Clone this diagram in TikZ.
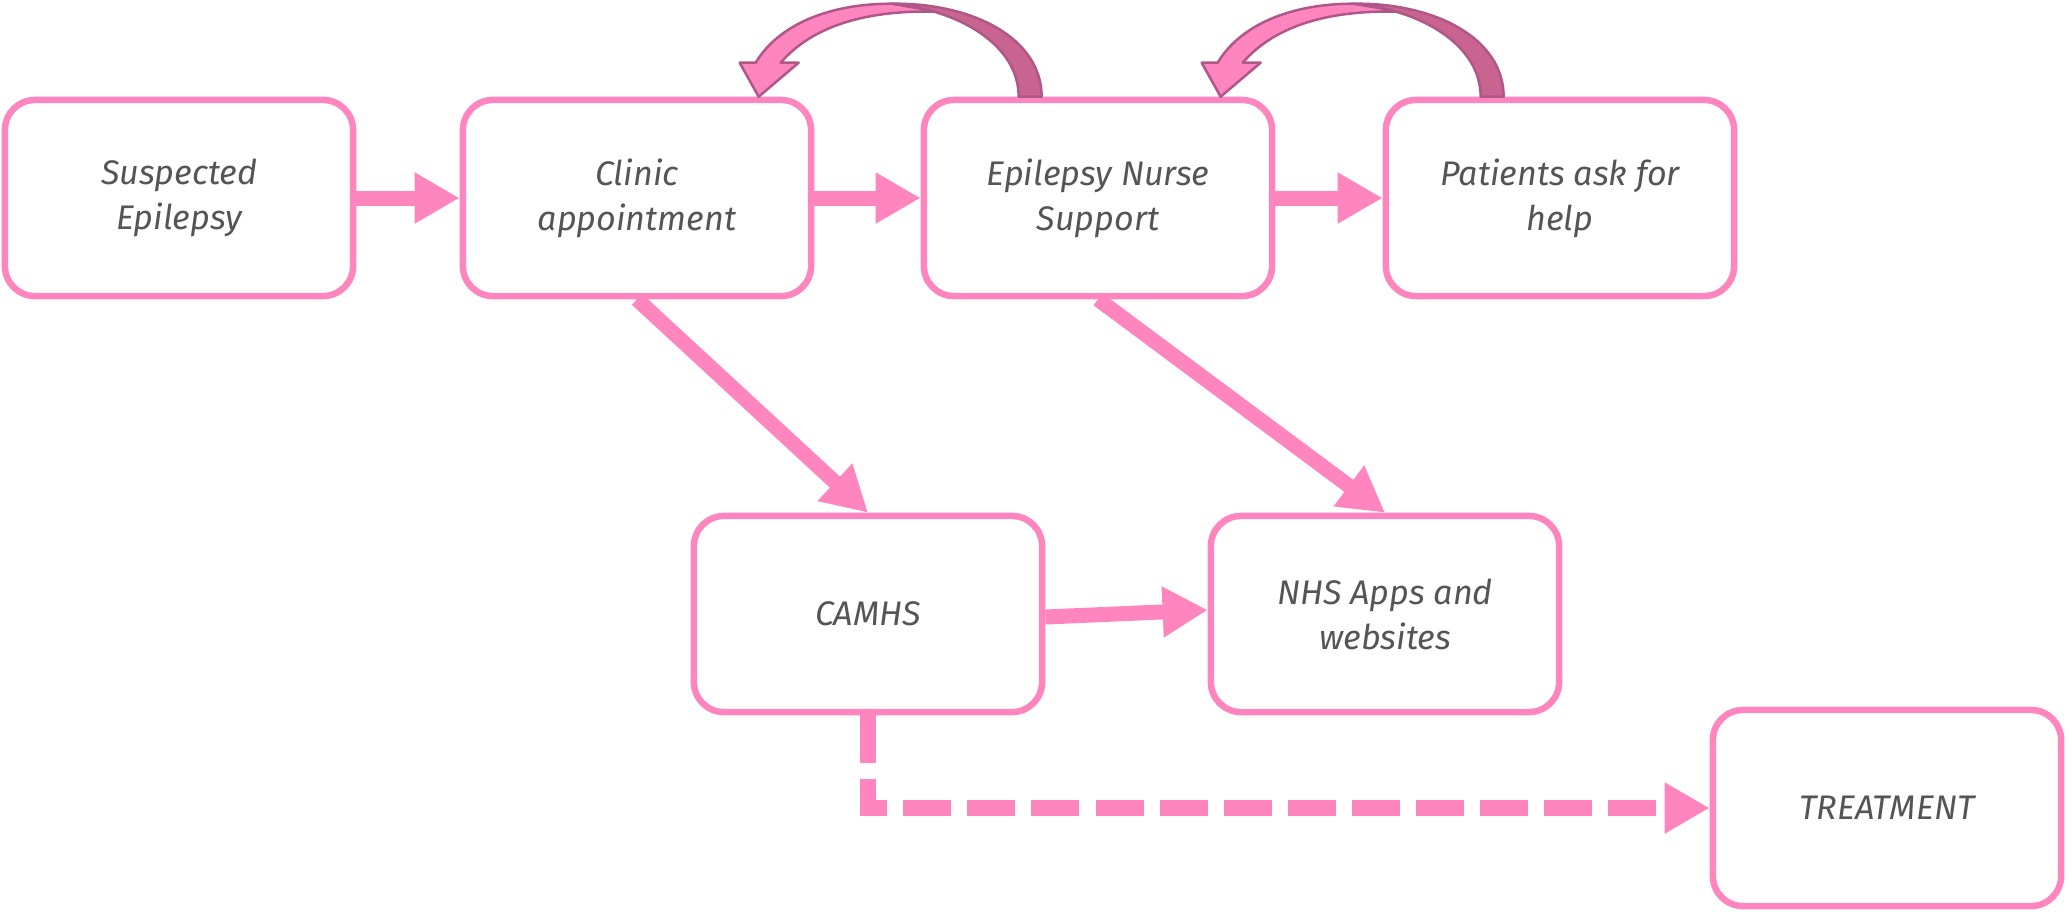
\documentclass[tikz,border=0pt]{standalone}
\usepackage{fontspec}
\setmainfont{Fira Sans}
\usetikzlibrary{arrows.meta}

\definecolor{pinkline}{HTML}{FF85BF}
\definecolor{pinkdark}{HTML}{C96490}
\definecolor{pinkedge}{HTML}{B0578A}
\definecolor{textgrey}{HTML}{555555}

\newcommand{\loopback}[1]{%
  \begin{scope}[shift={(#1)}]
    \fill[pinkline, draw=pinkedge, line width=0.25mm, line join=round]
      (-29,-93) .. controls (-92,-93) and (-142,-72) .. (-165,-34)
      -- (-181,-34) -- (-162,0) -- (-122,-34) -- (-140,-34)
      .. controls (-107,-72) and (-52,-87) .. (18,-85) -- cycle;
    \fill[pinkdark, draw=pinkedge, line width=0.25mm, line join=round]
      (121,0) .. controls (121,-58) and (53,-94) .. (-29,-93)
      .. controls (38,-87) and (98,-52) .. (98,0) -- cycle;
  \end{scope}}

\begin{document}
\begin{tikzpicture}[
    x=0.01cm, y=-0.01cm,
    stage/.style={draw=pinkline, line width=0.65mm, rounded corners=3mm,
                  fill=white, minimum width=3.48cm, minimum height=1.96cm,
                  align=center, text=textgrey, font=\fontsize{9.7}{12.8}\selectfont\itshape},
    arr/.style={draw=pinkline, line width=1.5mm,
                -{Triangle[length=4.5mm, width=4.8mm]}},
    darr/.style={arr, line width=1.6mm, dash pattern=on 4.8mm off 1.6mm}
  ]
    \useasboundingbox (0,0) rectangle (2066,911);

    \node[stage] (suspected) at (179,198)  {Suspected\\Epilepsy};
    \node[stage] (clinic)    at (637,198)  {Clinic\\appointment};
    \node[stage] (nurse)     at (1098,198) {Epilepsy Nurse\\Support};
    \node[stage] (patients)  at (1560,198) {Patients ask for\\help};
    \node[stage] (camhs)     at (868,614)  {CAMHS};
    \node[stage] (nhs)       at (1385,614) {NHS Apps and\\websites};
    \node[stage] (treatment) at (1887,808) {TREATMENT};

    \draw[arr]  (suspected) -- (clinic);
    \draw[arr]  (clinic)    -- (nurse);
    \draw[arr]  (nurse)     -- (patients);
    \draw[arr]  ([yshift=-0.3mm]camhs.east) -- ([yshift=0.4mm]nhs.west);
    \draw[arr]  (clinic.south) -- (camhs.north);
    \draw[arr]  (nurse.south)  -- (nhs.north);
    \draw[darr] (camhs.south)  |- (treatment.west);

    \loopback{nurse.north west}
    \loopback{patients.north west}
  \end{tikzpicture}
\end{document}
